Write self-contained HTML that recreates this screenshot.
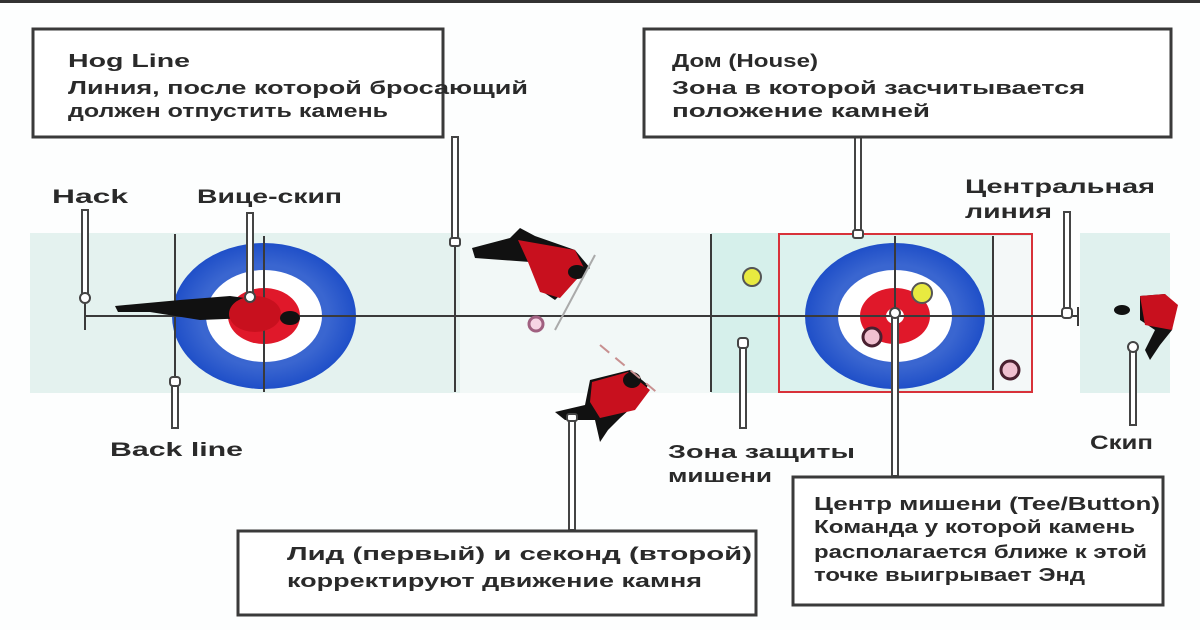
<!DOCTYPE html>
<html><head><meta charset="utf-8"><style>
html,body{margin:0;padding:0;background:#fff;}
svg{display:block}
text{font-family:"Liberation Sans","DejaVu Sans",sans-serif;font-weight:bold;fill:#2a2a2a}
</style></head><body>
<svg width="1200" height="630" viewBox="0 0 1200 630" xmlns="http://www.w3.org/2000/svg">
<defs>
<radialGradient id="bl" cx="50%" cy="50%" r="50%">
<stop offset="0.7" stop-color="#3a66d0"/><stop offset="1" stop-color="#1f4fc8"/>
</radialGradient>
</defs>
<rect x="0" y="0" width="1200" height="630" fill="#fdfefe"/>
<rect x="0" y="0" width="1200" height="3" fill="#333"/>
<rect x="30" y="233" width="430" height="160" fill="#e4f2ef"/>
<rect x="460" y="233" width="250" height="160" fill="#f2f8f7"/>
<rect x="711" y="233" width="70" height="160" fill="#d6f0eb"/>
<rect x="779" y="234" width="253" height="158" fill="#dcf2ee" stroke="#d8323a" stroke-width="2"/>
<rect x="993" y="236" width="38" height="154" fill="#f4f8f8"/>
<rect x="1080" y="233" width="90" height="160" fill="#e0f1ee"/>
<ellipse cx="264" cy="316" rx="92" ry="73" fill="url(#bl)"/>
<ellipse cx="264" cy="316" rx="58" ry="46" fill="#fff"/>
<ellipse cx="264" cy="316" rx="36" ry="28" fill="#e0182a"/>
<ellipse cx="895" cy="316" rx="90" ry="73" fill="url(#bl)"/>
<ellipse cx="895" cy="316" rx="57" ry="46" fill="#fff"/>
<ellipse cx="895" cy="316" rx="35" ry="28" fill="#e0182a"/>
<ellipse cx="895" cy="316" rx="9" ry="8" fill="#fff"/>
<g stroke="#3a3a3a" stroke-width="2">
<line x1="85" y1="316" x2="1078" y2="316"/>
<line x1="1078" y1="307" x2="1078" y2="326"/>
<line x1="175" y1="234" x2="175" y2="390"/>
<line x1="264" y1="236" x2="264" y2="392"/>
<line x1="455" y1="234" x2="455" y2="392"/>
<line x1="711" y1="234" x2="711" y2="392"/>
<line x1="895" y1="236" x2="895" y2="392"/>
<line x1="993" y1="236" x2="993" y2="390"/>
<line x1="85" y1="300" x2="85" y2="330"/>
</g>
<circle cx="752" cy="277" r="9" fill="#e8ea40" stroke="#555" stroke-width="2"/>
<circle cx="922" cy="293" r="10" fill="#e8ea40" stroke="#555" stroke-width="2"/>
<circle cx="872" cy="337" r="9" fill="#f0c0d0" stroke="#4a2030" stroke-width="3"/>
<circle cx="1010" cy="370" r="9" fill="#f0c0d0" stroke="#4a2030" stroke-width="3"/>
<circle cx="536" cy="324" r="7" fill="#f6d4e4" stroke="#a06080" stroke-width="3"/>
<g>
<path d="M115 306 L180 300 L230 296 L260 300 L250 318 L200 320 L150 312 L118 312 Z" fill="#111"/>
<ellipse cx="255" cy="314" rx="26" ry="18" fill="#c8101e"/>
<ellipse cx="290" cy="318" rx="10" ry="7" fill="#111"/>
<path d="M472 248 L510 238 L520 228 L535 236 L575 250 L590 268 L570 285 L555 300 L540 290 L530 262 L475 258 Z" fill="#111"/>
<path d="M518 240 L575 250 L585 270 L560 298 L540 292 L528 262 Z" fill="#c8101e"/>
<ellipse cx="577" cy="272" rx="9" ry="7" fill="#111"/>
<line x1="595" y1="255" x2="555" y2="330" stroke="#aaa" stroke-width="2"/>
<path d="M590 380 L630 370 L648 385 L640 400 L620 418 L608 430 L600 442 L595 420 L565 420 L555 412 L585 405 Z" fill="#111"/>
<path d="M592 382 L628 372 L650 390 L635 410 L600 418 L590 402 Z" fill="#c8101e"/>
<ellipse cx="632" cy="380" rx="9" ry="8" fill="#111"/>
<line x1="600" y1="345" x2="660" y2="395" stroke="#c89090" stroke-width="2" stroke-dasharray="12 8"/>
<path d="M1140 296 L1165 294 L1175 308 L1172 330 L1160 345 L1150 360 L1145 350 L1155 330 L1140 320 Z" fill="#111"/>
<path d="M1140 296 L1165 294 L1178 305 L1172 330 L1145 325 Z" fill="#c8101e"/>
<ellipse cx="1122" cy="310" rx="8" ry="5" fill="#111"/>
</g>
<g fill="#fff" stroke="#444" stroke-width="2">
<rect x="82" y="210" width="6" height="88"/><circle cx="85" cy="298" r="5"/>
<rect x="247" y="213" width="6" height="84"/><circle cx="250" cy="297" r="5"/>
<rect x="452" y="137" width="6" height="104"/><rect x="450" y="238" width="10" height="8" rx="2"/>
<rect x="855" y="137" width="6" height="98"/><rect x="853" y="230" width="10" height="8" rx="2"/>
<rect x="1064" y="212" width="6" height="100"/><rect x="1062" y="308" width="10" height="10" rx="3"/>
<rect x="172" y="380" width="6" height="48"/><rect x="170" y="377" width="10" height="9" rx="3"/>
<rect x="569" y="418" width="6" height="112"/><rect x="567" y="414" width="10" height="7" rx="2"/>
<rect x="740" y="342" width="6" height="86"/><rect x="738" y="338" width="10" height="10" rx="3"/>
<rect x="892" y="316" width="6" height="160"/><circle cx="895" cy="313" r="5"/>
<rect x="1130" y="348" width="6" height="77"/><circle cx="1133" cy="347" r="5"/>
</g>
<g fill="#fff" stroke="#3a3a3a" stroke-width="3">
<rect x="33" y="29" width="410" height="108"/>
<rect x="644" y="29" width="527" height="108"/>
<rect x="238" y="531" width="518" height="84"/>
<rect x="793" y="477" width="370" height="128"/>
</g>
<g font-size="18" lengthAdjust="spacingAndGlyphs">
<text x="68" y="67" textLength="122" lengthAdjust="spacingAndGlyphs">Hog Line</text>
<text x="68" y="94" textLength="460" lengthAdjust="spacingAndGlyphs">Линия, после которой бросающий</text>
<text x="68" y="117" textLength="320" lengthAdjust="spacingAndGlyphs">должен отпустить камень</text>
<text x="672" y="67" textLength="146" lengthAdjust="spacingAndGlyphs">Дом (House)</text>
<text x="672" y="94" textLength="413" lengthAdjust="spacingAndGlyphs">Зона в которой засчитывается</text>
<text x="672" y="117" textLength="258" lengthAdjust="spacingAndGlyphs">положение камней</text>
<text x="287" y="560" textLength="465" lengthAdjust="spacingAndGlyphs">Лид (первый) и секонд (второй)</text>
<text x="287" y="587" textLength="415" lengthAdjust="spacingAndGlyphs">корректируют движение камня</text>
<text x="814" y="510" textLength="346" lengthAdjust="spacingAndGlyphs">Центр мишени (Tee/Button)</text>
<text x="814" y="533" textLength="321" lengthAdjust="spacingAndGlyphs">Команда у которой камень</text>
<text x="814" y="558" textLength="333" lengthAdjust="spacingAndGlyphs">располагается ближе к этой</text>
<text x="814" y="581" textLength="271" lengthAdjust="spacingAndGlyphs">точке выигрывает Энд</text>
</g>
<g font-size="19">
<text x="52" y="203" textLength="76" lengthAdjust="spacingAndGlyphs">Hack</text>
<text x="197" y="203" textLength="145" lengthAdjust="spacingAndGlyphs">Вице-скип</text>
<text x="965" y="193" textLength="190" lengthAdjust="spacingAndGlyphs">Центральная</text>
<text x="965" y="218" textLength="87" lengthAdjust="spacingAndGlyphs">линия</text>
<text x="110" y="456" textLength="133" lengthAdjust="spacingAndGlyphs">Back line</text>
<text x="668" y="458" font-size="18" textLength="187" lengthAdjust="spacingAndGlyphs">Зона защиты</text>
<text x="668" y="482" font-size="18" textLength="104" lengthAdjust="spacingAndGlyphs">мишени</text>
<text x="1090" y="449" textLength="63" lengthAdjust="spacingAndGlyphs">Скип</text>
</g>
</svg>
</body></html>
